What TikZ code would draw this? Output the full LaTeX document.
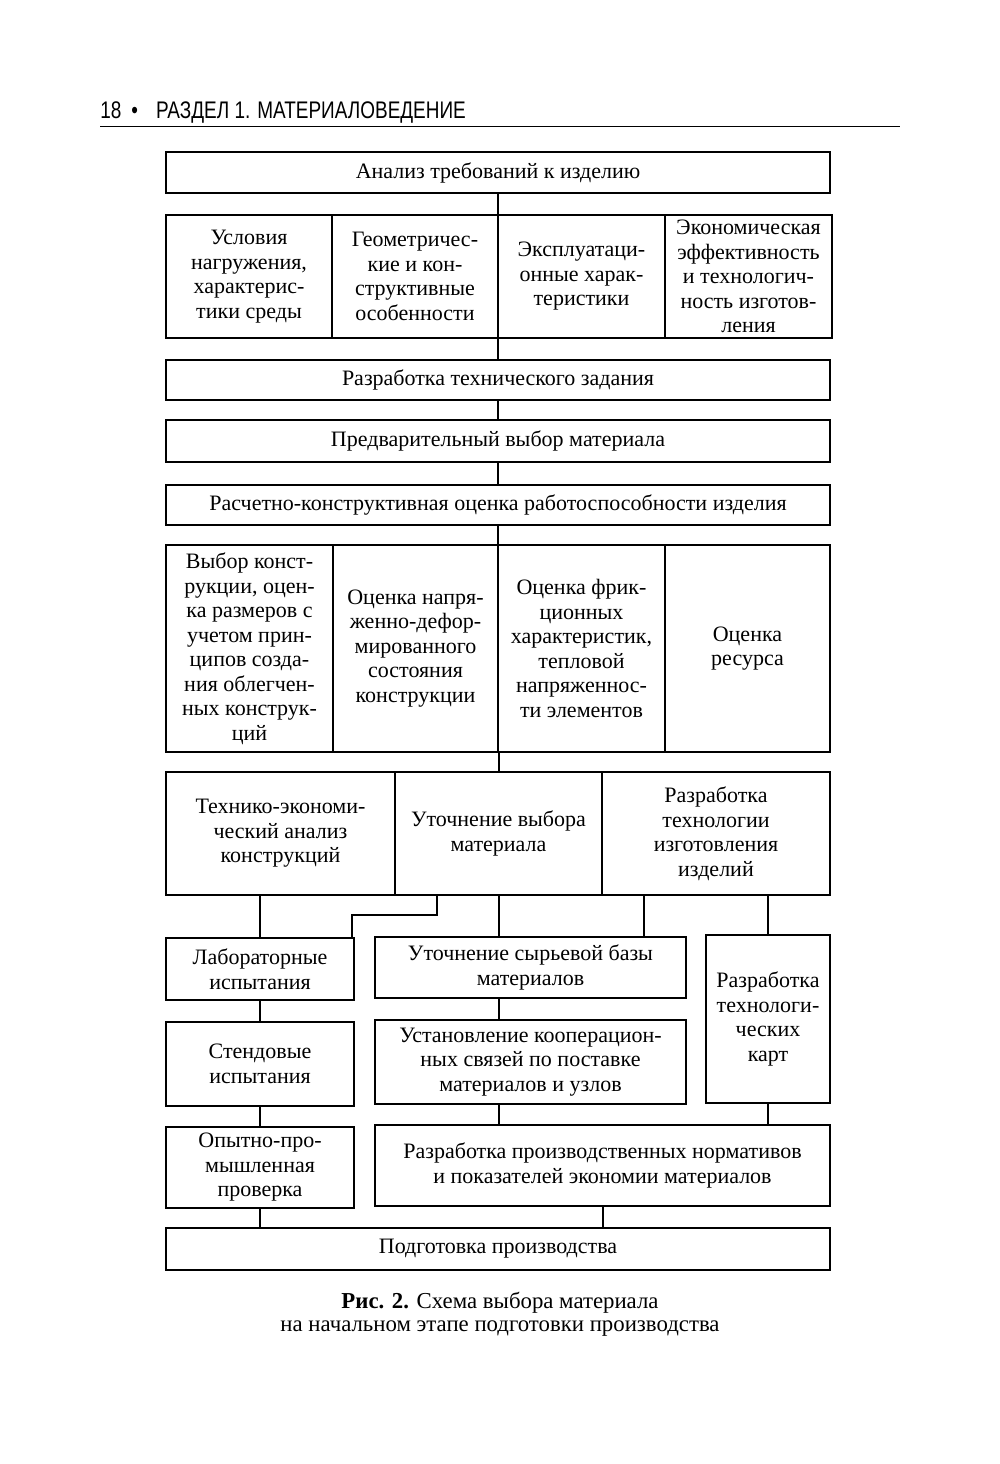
\documentclass[tikz,border=0pt]{standalone}
\usepackage{fontspec}
\setmainfont{Liberation Serif}
\newfontfamily\hdrfont[FakeStretch=0.79]{Liberation Sans}
\usetikzlibrary{positioning}

\begin{document}
\begin{tikzpicture}[x=0.5pt, y=-0.5pt,
    box/.style={draw, line width=1.3pt, align=center, inner sep=0pt,
      font=\fontsize{11}{12.25}\selectfont},
    link/.style={line width=1pt}]
  \useasboundingbox (0,0) rectangle (1000,1464);
  % running head
  \node[anchor=base west, inner sep=0pt, font=\hdrfont\fontsize{12}{13}\selectfont]
    (hdr) at (100,118) {18\hspace{5pt}•\hspace{9pt}РАЗДЕЛ 1. МАТЕРИАЛОВЕДЕНИЕ};
  \coordinate (rl) at (100,126);
  \coordinate (rr) at (900,126);
  \draw[line width=0.5pt] (rl) -- (rr);
  % top chain
  \node[box, minimum width=332pt, minimum height=20.5pt] (an) at (498,172.5) {Анализ требований к изделию};
  \node[box, minimum width=83pt, minimum height=61.5pt] (u1) at (249,276.5)
    {Условия\\нагружения,\\характерис-\\тики среды};
  \node[box, minimum width=83pt, minimum height=61.5pt] (u2) at (415,276.5)
    {Геометричес-\\кие и кон-\\структивные\\особенности};
  \node[box, minimum width=83.5pt, minimum height=61.5pt] (u3) at (581.5,276.5)
    {Эксплуатаци-\\онные харак-\\теристики};
  \node[box, minimum width=83.5pt, minimum height=61.5pt] (u4) at (748.5,276.5)
    {Экономическая\\эффективность\\и технологич-\\ность изготов-\\ления};
  \node[box, minimum width=332pt, minimum height=20pt] (tz) at (498,380) {Разработка технического задания};
  \node[box, minimum width=332pt, minimum height=21pt] (pv) at (498,441) {Предварительный выбор материала};
  \node[box, minimum width=332pt, minimum height=20pt] (rk) at (498,505)
    {Расчетно-конструктивная оценка работоспособности изделия};
  % evaluation row
  \node[box, minimum width=83.5pt, minimum height=103.5pt] (o1) at (249.5,648.5)
    {Выбор конст-\\рукции, оцен-\\ка размеров с\\учетом прин-\\ципов созда-\\ния облегчен-\\ных конструк-\\ций};
  \node[box, minimum width=82.5pt, minimum height=103.5pt] (o2) at (415.5,648.5)
    {Оценка напря-\\женно-дефор-\\мированного\\состояния\\конструкции};
  \node[box, minimum width=83.5pt, minimum height=103.5pt] (o3) at (581.5,648.5)
    {Оценка фрик-\\ционных\\характеристик,\\тепловой\\напряженнос-\\ти элементов};
  \node[box, minimum width=82.5pt, minimum height=103.5pt] (o4) at (747.5,648.5)
    {Оценка\\ресурса};
  % refinement row
  \node[box, minimum width=114.5pt, minimum height=61.5pt] (te) at (280.5,833.5)
    {Технико-экономи-\\ческий анализ\\конструкций};
  \node[box, minimum width=103.5pt, minimum height=61.5pt] (ut) at (498.5,833.5)
    {Уточнение выбора\\материала};
  \node[box, minimum width=114pt, minimum height=61.5pt] (rt) at (716,833.5)
    {Разработка\\технологии\\изготовления\\изделий};
  % lower blocks
  \node[box, minimum width=94pt, minimum height=31pt] (lab) at (260,969) {Лабораторные\\испытания};
  \node[box, minimum width=155.5pt, minimum height=30.5pt] (syr) at (530.5,967.5)
    {Уточнение сырьевой базы\\материалов};
  \node[box, minimum width=62pt, minimum height=84pt] (kar) at (768,1019)
    {Разработка\\технологи-\\ческих\\карт};
  \node[box, minimum width=94pt, minimum height=42pt] (ste) at (260,1064) {Стендовые\\испытания};
  \node[box, minimum width=155.5pt, minimum height=42pt] (ust) at (530.5,1062)
    {Установление кооперацион-\\ных связей по поставке\\материалов и узлов};
  \node[box, minimum width=94pt, minimum height=40.5pt] (opy) at (260,1167.5)
    {Опытно-про-\\мышленная\\проверка};
  \node[box, minimum width=227.5pt, minimum height=40.5pt] (nor) at (602.5,1165.5)
    {Разработка производственных нормативов\\и показателей экономии материалов};
  \node[box, minimum width=332pt, minimum height=21pt] (pod) at (498,1249) {Подготовка производства};
  % connectors
  \draw[link] (an.south) -- (an.south |- u3.north);
  \draw[link] (tz.north |- u2.south) -- (tz.north);
  \draw[link] (tz.south) -- (pv.north);
  \draw[link] (pv.south) -- (rk.north);
  \draw[link] (rk.south) -- (rk.south |- o2.north);
  \draw[link] (ut.north |- o2.south) -- (ut.north);
  \draw[link] (te.south -| lab.north) -- (lab.north);
  \coordinate (st) at (437,915);
  \coordinate (sl) at (352,0);
  \draw[link] (ut.south -| st) -- (st) -| (lab.north -| sl);
  \draw[link] (ut.south) -- (ut.south |- syr.north);
  \coordinate (rs) at (644,0);
  \draw[link] (rt.south -| rs) -- (syr.north -| rs);
  \draw[link] (rt.south -| kar.north) -- (kar.north);
  \draw[link] (lab.south) -- (ste.north);
  \draw[link] (ste.south) -- (opy.north);
  \draw[link] (syr.south -| ut.south) -- (ust.north -| ut.south);
  \draw[link] (ust.south -| ut.south) -- (nor.north -| ut.south);
  \draw[link] (kar.south) -- (kar.south |- nor.north);
  \draw[link] (opy.south) -- (opy.south |- pod.north);
  \draw[link] (nor.south) -- (nor.south |- pod.north);
  % caption
  \node[align=center, font=\fontsize{11.4}{11.5}\selectfont] (cap) at (500,1314)
    {\textbf{Рис. 2.} Схема выбора материала\\на начальном этапе подготовки производства};
\end{tikzpicture}
\end{document}
